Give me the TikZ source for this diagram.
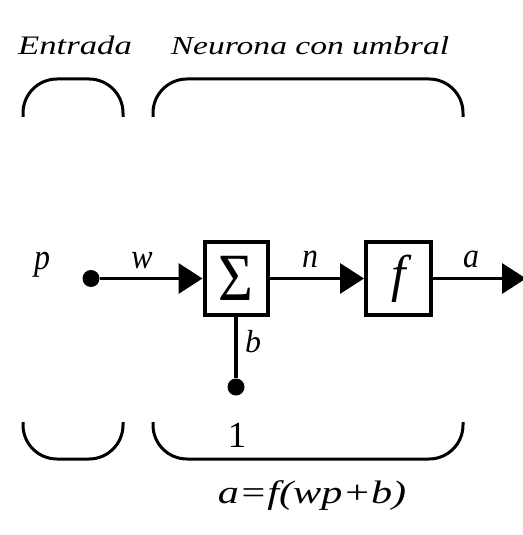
\documentclass[tikz,border=0pt]{standalone}
\usepackage{fontspec}
\setmainfont{LiberationSerif}[Extension=.ttf, UprightFont=*-Regular, ItalicFont=*-Italic]
\newfontfamily\widefont{LiberationSerif}[Extension=.ttf, UprightFont=*-Regular, ItalicFont=*-Italic, FakeStretch=1.3]
\usetikzlibrary{arrows.meta}
\begin{document}
\begin{tikzpicture}[x=1bp,y=-1bp,
  blk/.style={draw, line width=4bp, inner sep=0pt, minimum height=73bp},
  dotnode/.style={circle, fill, inner sep=0pt, minimum size=17bp},
  lbl/.style={font=\fontsize{32}{36}\selectfont\itshape, inner sep=0pt, anchor=base},
  conn/.style={line width=3.5bp, -{Triangle[length=24bp,width=30bp]}},
  plain/.style={line width=3.5bp},
  brace/.style={line width=3bp, rounded corners=34bp},
  title/.style={inner sep=0pt, anchor=base}]
\useasboundingbox (0,0) rectangle (523,535);

% titles
\node[title, font=\widefont\itshape\fontsize{26.8}{30}\selectfont] (tin) at (75,55) {Entrada};
\node[title, font=\widefont\itshape\fontsize{25.9}{30}\selectfont] (tneu) at (310,55) {Neurona con umbral};

% braces
\draw[brace] (23,117) -- (23,79) -- (123,79) -- (123,117);
\draw[brace] (153,117) -- (153,79) -- (463,79) -- (463,117);
\draw[brace] (23,422) -- (23,459) -- (123,459) -- (123,422);
\draw[brace] (153,422) -- (153,459) -- (463,459) -- (463,422);

% blocks
\node[blk, minimum width=63bp] (sum) at (236,278.5)
  {\scalebox{1}[1.13]{\fontsize{60}{64}\selectfont Σ}};
\node[blk, minimum width=65bp] (fbox) at (398.5,278.5)
  {\fontsize{52}{56}\selectfont\itshape f};

% dots
\node[dotnode] (dotp) at (91,278.5) {};
\node[dotnode] (dotb) at (236,387) {};
\coordinate (out) at (526,278.5);

% connectors
\draw[conn] (dotp) -- (sum);
\draw[conn] (sum) -- (fbox);
\draw[conn] (fbox) -- (out);
\draw[plain] (sum.south) -- (dotb);

% labels
\node[lbl] (lp) at (42,269) {\scalebox{1}[1.15]{p}};
\node[lbl] (lw) at (142,268) {\scalebox{1}[1.1]{w}};
\node[lbl] (ln) at (310,267) {\scalebox{1}[1.1]{n}};
\node[lbl] (la) at (471,267) {\scalebox{1}[1.1]{a}};
\node[lbl] (lb) at (253,352) {b};
\node[inner sep=0pt, anchor=base, font=\fontsize{37}{40}\selectfont] (lone) at (237,447) {1};

% formula
\node[title, font=\widefont\itshape\fontsize{32.6}{36}\selectfont] (form) at (312,503) {a=f(wp+b)};
\end{tikzpicture}
\end{document}
